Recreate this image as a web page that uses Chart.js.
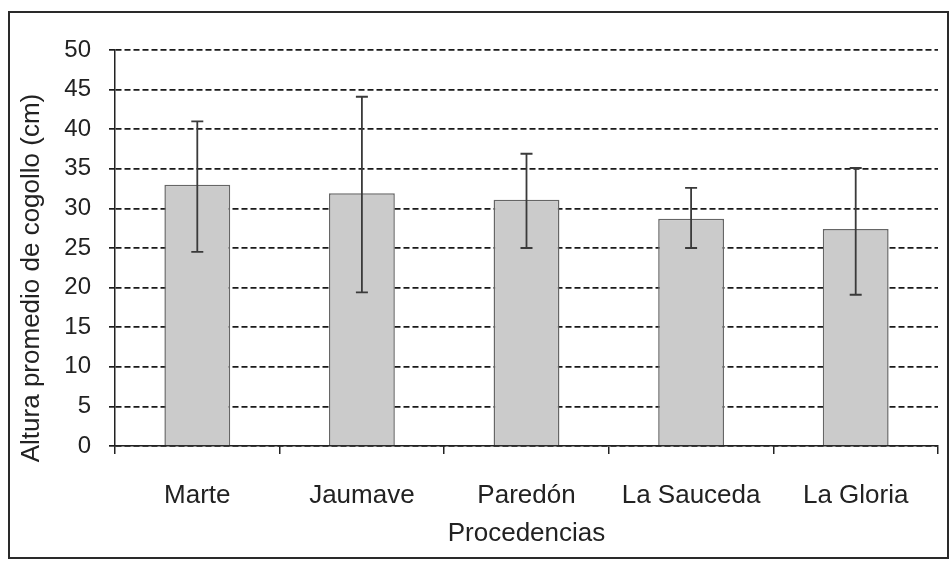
<!DOCTYPE html>
<html>
<head>
<meta charset="utf-8">
<script src="https://cdn.jsdelivr.net/npm/chart.js@4"></script>
<style>
  body { margin: 0; background: #fff; }
  #wrap { position: relative; width: 951px; height: 561px; }
  #frame { position: absolute; left: 8px; top: 11px; width: 937px; height: 544px; border: 2px solid #2a2a2a; pointer-events: none; }
</style>
</head>
<body>
<div id="wrap">
  <canvas id="chart"></canvas>
  <div id="frame"></div>
</div>
<script>
const categories = ['Marte', 'Jaumave', 'Paredón', 'La Sauceda', 'La Gloria'];
const means = [33.0, 31.9, 31.1, 28.7, 27.4];
const errHigh = [41.0, 44.1, 36.9, 32.6, 35.1];
const errLow = [24.5, 19.4, 25.0, 25.0, 19.1];
const yTitle = 'Altura promedio de cogollo (cm)';

const family = '"Liberation Sans", Arial, sans-serif';
const labelFont = { family: family, size: 26 };
const tickFont = { family: family, size: 24 };

// barras de error dibujadas con las escalas del gráfico
const errorBars = {
    id: 'errorBars',
    afterDatasetsDraw(chart) {
        const ctx = chart.ctx;
        const y = chart.scales.y;
        const meta = chart.getDatasetMeta(0);
        ctx.save();
        ctx.strokeStyle = '#3a3a3a';
        ctx.lineWidth = 1.8;
        meta.data.forEach((bar, i) => {
            const x = bar.x;
            const top = y.getPixelForValue(errHigh[i]);
            const bot = y.getPixelForValue(errLow[i]);
            ctx.beginPath();
            ctx.moveTo(x, top); ctx.lineTo(x, bot);
            ctx.moveTo(x - 6, top); ctx.lineTo(x + 6, top);
            ctx.moveTo(x - 6, bot); ctx.lineTo(x + 6, bot);
            ctx.stroke();
        });
        ctx.restore();
    }
};

// título del eje Y, algo desplazado hacia abajo como en el original
const yAxisTitle = {
    id: 'yAxisTitle',
    afterDraw(chart) {
        const ctx = chart.ctx;
        const area = chart.chartArea;
        ctx.save();
        ctx.translate(32, (area.top + area.bottom) / 2 + 30);
        ctx.rotate(-Math.PI / 2);
        ctx.font = '26px ' + family;
        ctx.fillStyle = '#222';
        ctx.textAlign = 'center';
        ctx.textBaseline = 'middle';
        ctx.fillText(yTitle, 0, 0);
        ctx.restore();
    }
};

new Chart(document.getElementById('chart'), {
    type: 'bar',
    data: {
        labels: categories,
        datasets: [{
            data: means,
            backgroundColor: '#cbcbcb',
            borderColor: '#666',
            borderWidth: 1.5,
            barPercentage: 0.4,
            categoryPercentage: 1
        }]
    },
    options: {
        responsive: true,
        maintainAspectRatio: false,
        animation: false,
        layout: { padding: { left: 0, top: 50, right: 13, bottom: 0 } },
        plugins: { legend: { display: false }, tooltip: { enabled: false } },
        scales: {
            x: {
                afterFit: s => { s.height = 115; },
                grid: { drawOnChartArea: false, drawTicks: true, tickLength: 8, color: '#222', lineWidth: 1.5 },
                border: { color: '#222', width: 1.5 },
                ticks: { font: labelFont, color: '#222', padding: 26 },
                title: { display: true, text: 'Procedencias', font: labelFont, color: '#222', padding: { top: 0, bottom: 12 } }
            },
            y: {
                min: 0,
                max: 50,
                afterFit: s => { s.width = 115; },
                grid: { color: '#1a1a1a', lineWidth: 1.7, tickLength: 6, tickBorderDash: [] },
                border: { color: '#222', width: 1.5, dash: [6, 3] },
                ticks: { stepSize: 5, font: tickFont, color: '#222', padding: 18 }
            }
        }
    },
    plugins: [errorBars, yAxisTitle]
});
</script>
</body>
</html>
